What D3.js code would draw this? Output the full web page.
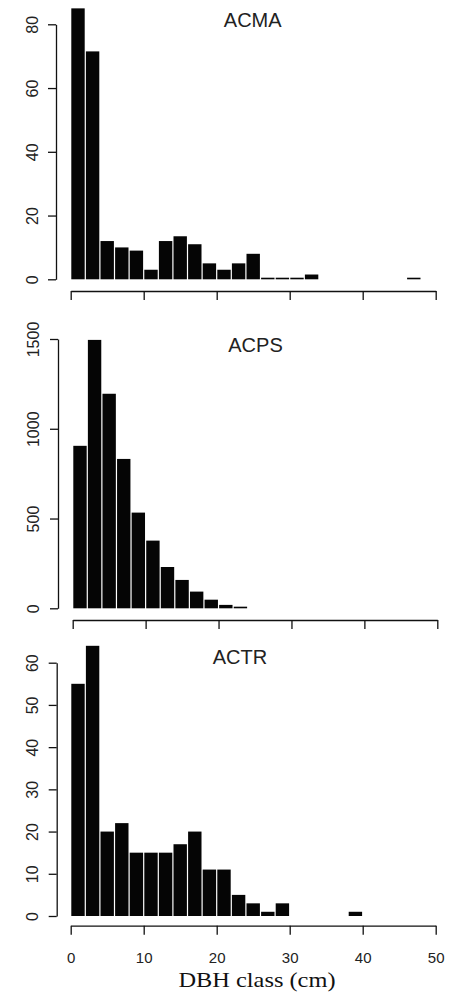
<!DOCTYPE html>
<html>
<head>
<meta charset="utf-8">
<script src="https://cdn.jsdelivr.net/npm/d3@7"></script>
<style>
  html, body { margin: 0; padding: 0; background: #fff; }
  svg { display: block; }
</style>
</head>
<body>
<svg id="chart" width="450" height="1003"></svg>
<script>
// Stem counts per 2 cm DBH class, starting at 0 cm
const binWidth = 2;
const acmaCounts = [85, 71.5, 12, 10, 9, 3, 12, 13.5, 11, 5, 3, 5, 8, 0.5, 0.5, 0.5, 1.5, 0, 0, 0, 0, 0, 0, 0.5];
const acpsCounts = [905, 1495, 1195, 832, 533, 377, 230, 158, 93, 48, 19, 9];
const actrCounts = [55, 64, 20, 22, 15, 15, 15, 17, 20, 11, 11, 5, 3, 1, 3, 0, 0, 0, 0, 1];

const speciesNames = ["ACMA", "ACPS", "ACTR"];
const xTicks = [0, 10, 20, 30, 40, 50];
const acmaYTicks = [0, 20, 40, 60, 80];
const acpsYTicks = [0, 500, 1000, 1500];
const actrYTicks = [0, 10, 20, 30, 40, 50, 60];
const xTitle = "DBH class (cm)";

// Panel geometry (pixels)
const panels = [
  { name: speciesNames[0], counts: acmaCounts, yTicks: acmaYTicks,
    xLeft: 70.7, xRight: 435.7, yAxisX: 56, yZero: 279.3, yTopTick: 24.3,
    xAxisY: 291, titleX: 252.7, titleY: 26.5, labelBase: 37.5, showXLabels: false },
  { name: speciesNames[1], counts: acpsCounts, yTicks: acpsYTicks,
    xLeft: 72.7, xRight: 437.3, yAxisX: 58, yZero: 608.3, yTopTick: 339,
    xAxisY: 620, titleX: 255.5, titleY: 352, labelBase: 38.5, showXLabels: false },
  { name: speciesNames[2], counts: actrCounts, yTicks: actrYTicks,
    xLeft: 70.7, xRight: 435.7, yAxisX: 56.7, yZero: 916, yTopTick: 662.7,
    xAxisY: 925.7, titleX: 240, titleY: 663.5, labelBase: 37.5, showXLabels: true }
];

const svg = d3.select("#chart");
const ink = "#111";

panels.forEach(p => {
  const x = d3.scaleLinear().domain([xTicks[0], xTicks[xTicks.length - 1]]).range([p.xLeft, p.xRight]);
  const y = d3.scaleLinear().domain([0, p.yTicks[p.yTicks.length - 1]]).range([p.yZero, p.yTopTick]);

  const g = svg.append("g");

  // histogram bars, with a thin light gap between neighbours
  const bins = p.counts.map((v, i) => ({ x0: i * binWidth, x1: (i + 1) * binWidth, v }))
    .filter(d => d.v > 0);
  g.append("g").selectAll("rect").data(bins).join("rect")
    .attr("x", d => x(d.x0) + 0.6)
    .attr("width", d => x(d.x1) - x(d.x0) - 1.2)
    .attr("y", d => y(d.v))
    .attr("height", d => y(0) - y(d.v))
    .attr("fill", "#050505");

  // y axis, labels parallel to the axis
  const yAxis = d3.axisLeft(y).tickValues(p.yTicks).tickSize(8).tickSizeOuter(0).tickFormat(d3.format("d"));
  const ya = g.append("g").attr("transform", `translate(${p.yAxisX},0)`).call(yAxis);
  ya.select(".domain").attr("stroke", ink).attr("stroke-width", 1.3);
  ya.selectAll(".tick line").attr("stroke", ink).attr("stroke-width", 1.3);
  ya.selectAll(".tick text")
    .attr("transform", "rotate(-90)")
    .attr("x", 0).attr("y", p.labelBase - p.yAxisX).attr("dy", 0)
    .attr("text-anchor", "middle")
    .attr("font-family", "'Liberation Sans', Arial, sans-serif")
    .attr("font-size", 16)
    .attr("fill", "#222");

  // x axis
  const xAxis = d3.axisBottom(x).tickValues(xTicks).tickSize(9).tickSizeOuter(0)
    .tickFormat(p.showXLabels ? d3.format("d") : () => "");
  const xa = g.append("g").attr("transform", `translate(0,${p.xAxisY})`).call(xAxis);
  xa.select(".domain").attr("stroke", ink).attr("stroke-width", 1.3);
  xa.selectAll(".tick line").attr("stroke", ink).attr("stroke-width", 1.3);
  xa.selectAll(".tick text")
    .attr("y", 37.3).attr("dy", 0)
    .attr("font-family", "'Liberation Sans', Arial, sans-serif")
    .attr("font-size", 15)
    .attr("fill", "#222");

  // species code
  g.append("text")
    .attr("x", p.titleX).attr("y", p.titleY)
    .attr("text-anchor", "middle")
    .attr("font-family", "'Liberation Sans', Arial, sans-serif")
    .attr("font-size", 20)
    .attr("fill", "#222")
    .text(p.name);
});

// shared x axis title
svg.append("text")
  .attr("x", 257).attr("y", 987)
  .attr("text-anchor", "middle")
  .attr("font-family", "'Liberation Serif', 'Times New Roman', serif")
  .attr("font-size", 22)
  .attr("textLength", 157)
  .attr("lengthAdjust", "spacingAndGlyphs")
  .attr("fill", "#111")
  .text(xTitle);
</script>
</body>
</html>
